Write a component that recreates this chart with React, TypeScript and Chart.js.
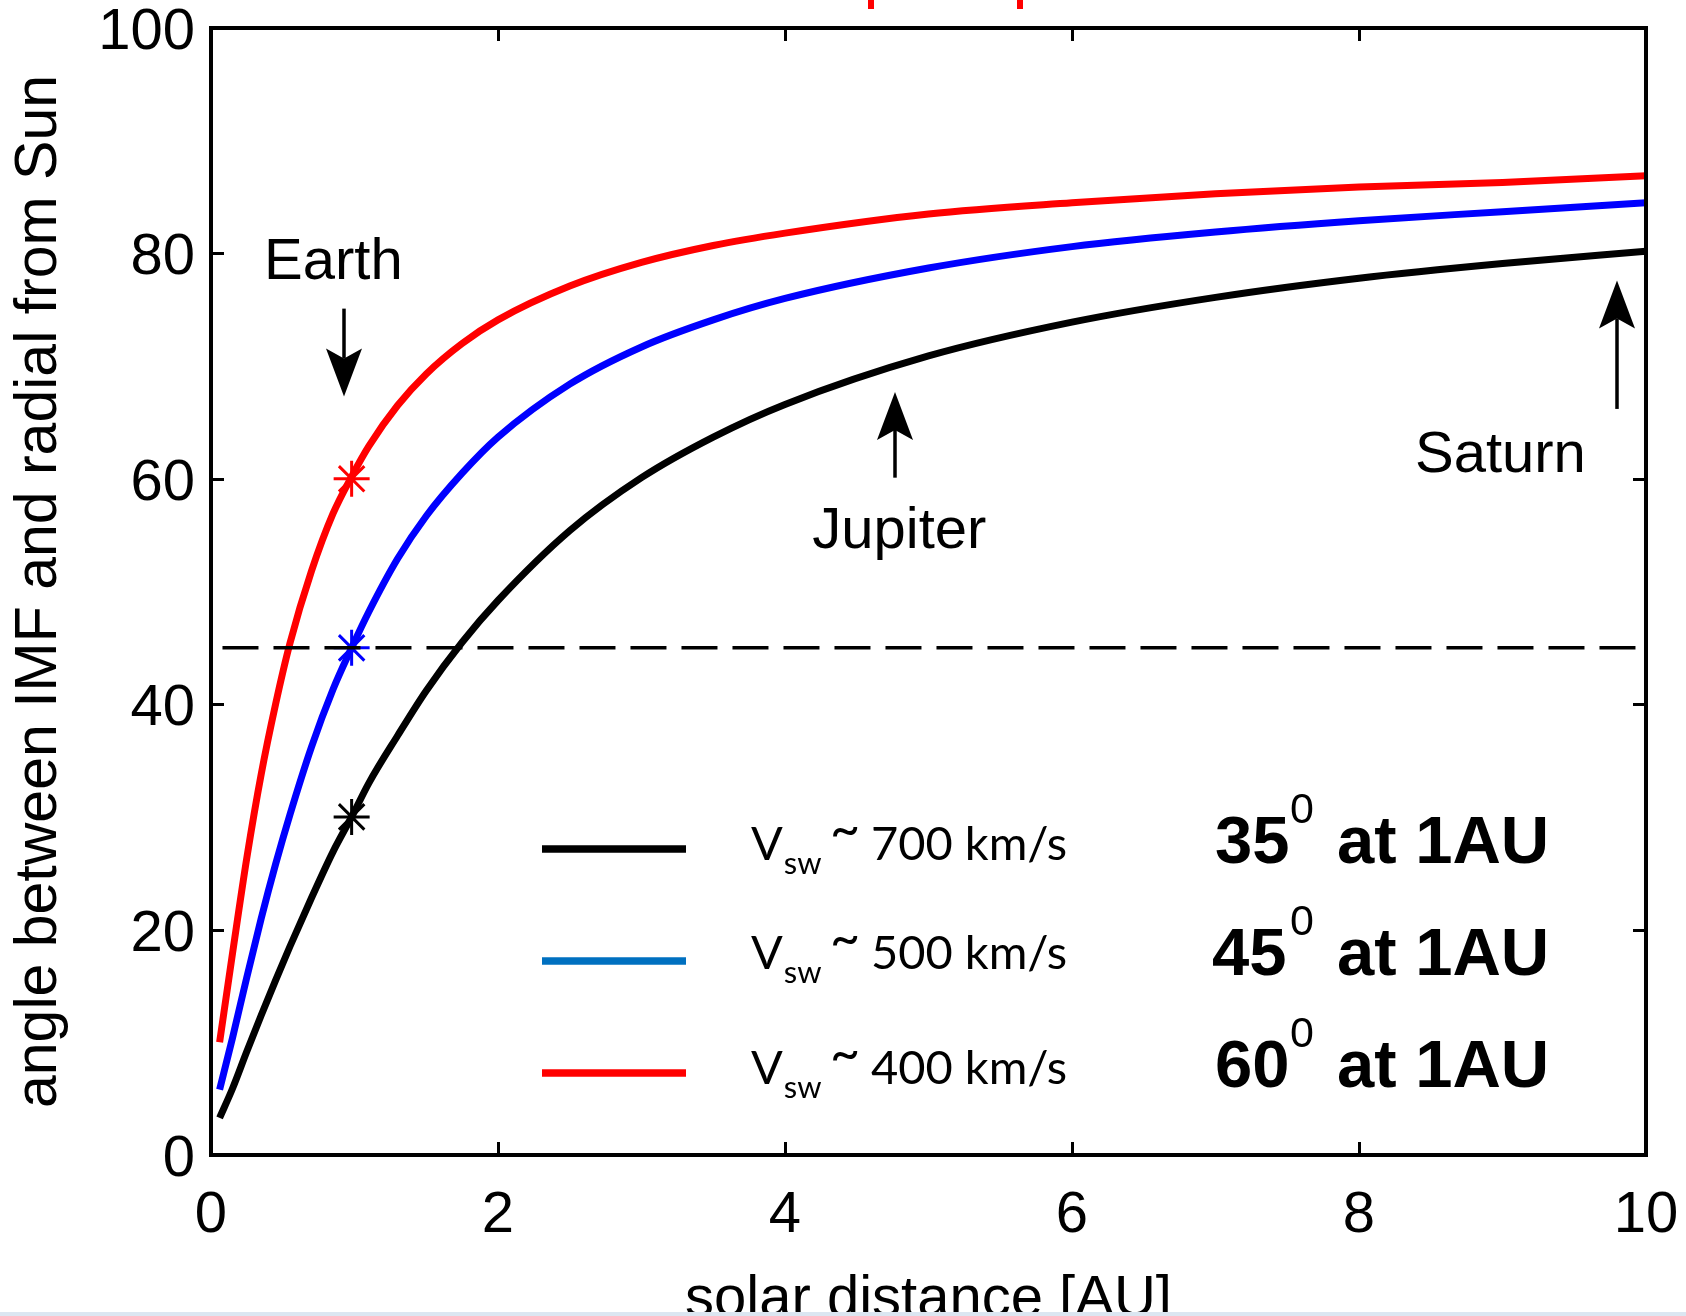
import React, { useEffect, useRef } from 'react';
import { Chart, registerables } from 'chart.js';

Chart.register(...registerables);

// ---- data ----
const distanceAU = [0.06, 0.15, 0.25, 0.35, 0.45, 0.55, 0.7, 0.85, 0.98, 1.1, 1.3, 1.5, 1.75, 2, 2.5, 3, 3.5, 4, 5, 6, 7, 8, 9, 10];
const angleVsw400 = [10, 17.9, 26.4, 33.8, 40.0, 45.4, 51.8, 56.9, 60.2, 62.9, 66.5, 69.3, 72.0, 74.1, 77.1, 79.2, 80.7, 81.8, 83.5, 84.5, 85.3, 85.9, 86.3, 86.9];
const angleVsw500 = [5.8, 10.4, 15.8, 21.0, 25.8, 30.2, 36.2, 41.3, 45.0, 48.2, 52.9, 56.7, 60.5, 63.7, 68.4, 71.7, 74.1, 76.0, 78.7, 80.6, 81.9, 82.9, 83.7, 84.5];
const angleVsw700 = [3.3, 5.9, 9.2, 12.4, 15.5, 18.5, 22.8, 26.9, 30.0, 33.0, 37.2, 41.2, 45.5, 49.2, 55.4, 60.1, 63.7, 66.6, 70.9, 73.9, 76.1, 77.8, 79.1, 80.2];

const earthDistance = 0.98;
const earthAngles = [60, 45, 30]; // 400, 500, 700 km/s

const referenceAngle = 45;
const referenceRange = [0.08, 9.95];

const xTickValues = [0, 2, 4, 6, 8, 10];
const yTickValues = [0, 20, 40, 60, 80, 100];

const legendSpeeds = ['700', '500', '400'];
const legendAnglesAt1AU = ['35', '45', '60'];
const legendLineColors = ['#000000', '#0070C0', '#FF0000'];

const planetNames = ['Earth', 'Jupiter', 'Saturn'];
const planetLabelX = [0.37, 4.19, 8.39];
const planetLabelY = [77.7, 53.9, 60.6];
const planetArrowX = [0.927, 4.77, 9.8];
const planetArrowFrom = [75.1, 60.1, 66.2];
const planetArrowTo = [67.3, 67.7, 77.6];

const FONT = "'Liberation Sans', Arial, Helvetica, sans-serif";

function drawArrow(ctx: CanvasRenderingContext2D, x: number, yFrom: number, yTo: number) {
  const dir = Math.sign(yTo - yFrom);
  const headLen = 48;
  const halfW = 18;
  const notch = 38;
  ctx.lineWidth = 3.5;
  ctx.beginPath();
  ctx.moveTo(x, yFrom);
  ctx.lineTo(x, yTo - dir * notch);
  ctx.stroke();
  ctx.beginPath();
  ctx.moveTo(x, yTo);
  ctx.lineTo(x + halfW, yTo - dir * headLen);
  ctx.lineTo(x, yTo - dir * notch);
  ctx.lineTo(x - halfW, yTo - dir * headLen);
  ctx.closePath();
  ctx.fill();
}

const decorPlugin = {
  id: 'decor',
  afterDraw(chart: any) {
    const { ctx, chartArea: a, scales } = chart;
    const xs = scales.x;
    const ys = scales.y;
    ctx.save();
    ctx.strokeStyle = '#000';
    ctx.fillStyle = '#000';

    // inward ticks on all four sides
    ctx.lineWidth = 3;
    ctx.beginPath();
    xs.ticks.forEach((t: any) => {
      const px = Math.round(xs.getPixelForValue(t.value)) + 0.5;
      ctx.moveTo(px, a.bottom);
      ctx.lineTo(px, a.bottom - 13);
      ctx.moveTo(px, a.top);
      ctx.lineTo(px, a.top + 13);
    });
    ys.ticks.forEach((t: any) => {
      const py = Math.round(ys.getPixelForValue(t.value)) + 0.5;
      ctx.moveTo(a.left, py);
      ctx.lineTo(a.left + 13, py);
      ctx.moveTo(a.right, py);
      ctx.lineTo(a.right - 13, py);
    });
    ctx.stroke();

    // frame
    ctx.lineWidth = 4;
    ctx.strokeRect(a.left, a.top, a.right - a.left, a.bottom - a.top);

    // planet annotations
    ctx.font = `58px ${FONT}`;
    ctx.textAlign = 'left';
    ctx.textBaseline = 'alphabetic';
    planetNames.forEach((name, i) => {
      ctx.fillText(name, xs.getPixelForValue(planetLabelX[i]), ys.getPixelForValue(planetLabelY[i]));
      drawArrow(
        ctx,
        Math.round(xs.getPixelForValue(planetArrowX[i])),
        ys.getPixelForValue(planetArrowFrom[i]),
        ys.getPixelForValue(planetArrowTo[i])
      );
    });

    // custom legend
    const lineY = [849, 961, 1073];
    const textBase = [860, 969, 1084];
    const boldBase = [863, 975, 1087];
    const boldX = [1215, 1212, 1215];
    for (let i = 0; i < 3; i++) {
      ctx.strokeStyle = legendLineColors[i];
      ctx.lineWidth = 7.5;
      ctx.beginPath();
      ctx.moveTo(542, lineY[i]);
      ctx.lineTo(686, lineY[i]);
      ctx.stroke();

      ctx.fillStyle = '#000';
      ctx.font = `47px Lato, 'Open Sans', sans-serif`;
      ctx.fillText('V', 751, textBase[i]);
      const vw = ctx.measureText('V').width;
      ctx.font = `31px Lato, 'Open Sans', sans-serif`;
      ctx.fillText('sw', 751 + vw + 1, textBase[i] + 14);
      ctx.font = `52px Lato, 'Open Sans', sans-serif`;
      ctx.fillText('~', 830, textBase[i] - 13);
      ctx.font = `47px Lato, 'Open Sans', sans-serif`;
      ctx.fillText(`${legendSpeeds[i]} km/s`, 871, textBase[i]);

      ctx.font = `bold 67px ${FONT}`;
      ctx.fillText(legendAnglesAt1AU[i], boldX[i], boldBase[i]);
      ctx.font = `43px ${FONT}`;
      ctx.fillText('0', 1290, boldBase[i] - 40);
      ctx.font = `bold 67px ${FONT}`;
      ctx.fillText('at 1AU', 1337, boldBase[i]);
    }

    // red fragments of the clipped title above the plot
    ctx.fillStyle = '#FF0000';
    ctx.fillRect(868, 0, 6, 9);
    ctx.fillRect(1017, 0, 6, 9);

    // slide background strip at the bottom
    ctx.fillStyle = '#dbe6f1';
    ctx.fillRect(0, 1312, chart.width, 4);
    ctx.restore();
  },
};

export default function App() {
  const canvasRef = useRef<HTMLCanvasElement | null>(null);

  useEffect(() => {
    if (!canvasRef.current) return;
    const toXY = (ys: number[]) => distanceAU.map((x, i) => ({ x, y: ys[i] }));
    const chart = new Chart(canvasRef.current, {
      type: 'line',
      data: {
        datasets: [
          {
            label: '45 deg',
            data: referenceRange.map((x) => ({ x, y: referenceAngle })),
            borderColor: '#000',
            borderWidth: 3.5,
            borderDash: [36, 15],
            pointRadius: 0,
            fill: false,
          },
          {
            label: 'Vsw ~ 700 km/s',
            data: toXY(angleVsw700),
            borderColor: '#000000',
            borderWidth: 7,
            pointRadius: 0,
            cubicInterpolationMode: 'monotone',
            fill: false,
          },
          {
            label: 'Vsw ~ 500 km/s',
            data: toXY(angleVsw500),
            borderColor: '#0000FF',
            borderWidth: 7,
            pointRadius: 0,
            cubicInterpolationMode: 'monotone',
            fill: false,
          },
          {
            label: 'Vsw ~ 400 km/s',
            data: toXY(angleVsw400),
            borderColor: '#FF0000',
            borderWidth: 7,
            pointRadius: 0,
            cubicInterpolationMode: 'monotone',
            fill: false,
          },
          ...earthAngles.map((ang, i) => ({
            label: 'Earth ' + i,
            data: [{ x: earthDistance, y: ang }],
            showLine: false,
            pointStyle: 'star',
            pointRadius: 18,
            pointBorderWidth: 3,
            borderColor: ['#FF0000', '#0000FF', '#000000'][i],
            backgroundColor: ['#FF0000', '#0000FF', '#000000'][i],
          })),
        ] as any,
      },
      options: {
        responsive: false,
        animation: false,
        events: [],
        layout: { padding: { top: 28, right: 40, left: 0, bottom: 0 } },
        plugins: {
          legend: { display: false },
          tooltip: { enabled: false },
          title: { display: false },
        },
        scales: {
          x: {
            type: 'linear',
            min: 0,
            max: 10,
            afterBuildTicks: (s: any) => {
              s.ticks = xTickValues.map((v) => ({ value: v }));
            },
            afterFit: (s: any) => {
              s.height = 161;
              s.paddingLeft = 0;
              s.paddingRight = 0;
            },
            grid: { display: false, drawTicks: false },
            border: { display: false },
            ticks: {
              color: '#000',
              font: { family: FONT, size: 58 },
              padding: 26,
              maxRotation: 0,
              autoSkip: false,
            },
            title: {
              display: true,
              text: 'solar distance [AU]',
              color: '#000',
              font: { family: FONT, size: 58, lineHeight: 0.55 },
              padding: 0,
            },
          },
          y: {
            type: 'linear',
            min: 0,
            max: 100,
            afterBuildTicks: (s: any) => {
              s.ticks = yTickValues.map((v) => ({ value: v }));
            },
            afterFit: (s: any) => {
              s.width = 211;
              s.paddingTop = 0;
              s.paddingBottom = 0;
            },
            grid: { display: false, drawTicks: false },
            border: { display: false },
            ticks: {
              color: '#000',
              font: { family: FONT, size: 58 },
              padding: 16,
              labelOffset: 5,
              autoSkip: false,
            },
            title: {
              display: true,
              text: 'angle between IMF and radial from Sun',
              color: '#000',
              font: { family: FONT, size: 59, lineHeight: 1.2 },
              padding: { top: 4, bottom: 0 },
            },
          },
        },
      } as any,
      plugins: [decorPlugin],
    });
    return () => chart.destroy();
  }, []);

  return (
    <div style={{ position: 'fixed', left: 0, top: 0, width: 1686, height: 1316, background: '#fff' }}>
      <canvas ref={canvasRef} width={1686} height={1316} style={{ width: 1686, height: 1316, display: 'block' }} />
    </div>
  );
}
